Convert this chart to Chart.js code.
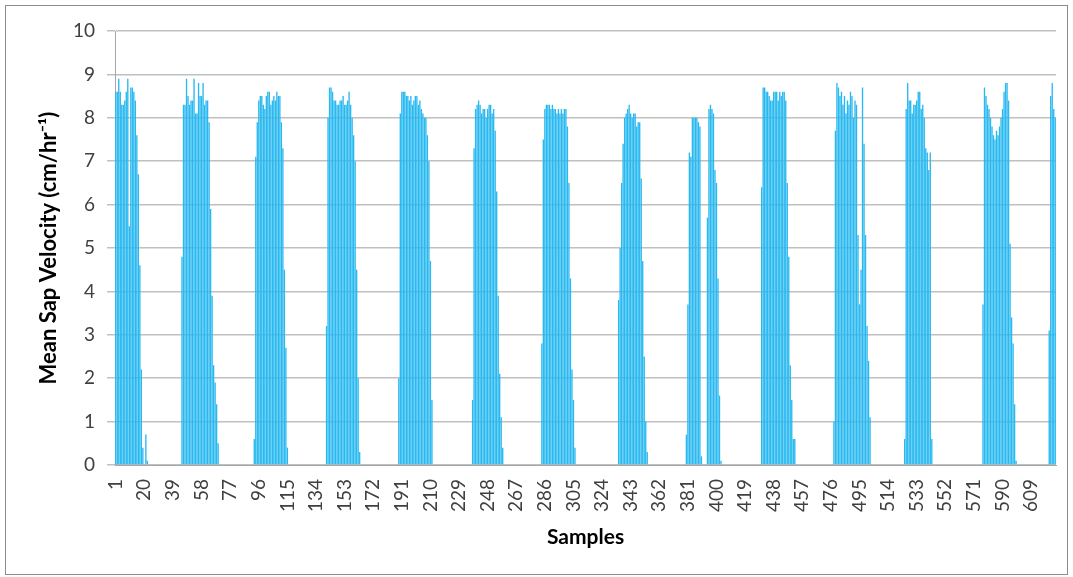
<!DOCTYPE html>
<html>
<head>
<meta charset="utf-8">
<script src="https://cdn.jsdelivr.net/npm/chart.js@4/dist/chart.umd.min.js"></script>
<style>
  html, body { margin: 0; padding: 0; background: #fff; }
  #wrap { width: 1073px; height: 577px; }
</style>
</head>
<body>
<div id="wrap"><canvas id="sapChart" width="1073" height="577"></canvas></div>
<script>
// total number of samples on the category axis
const sampleCount = 625;

// first sample number of each daytime block (rest of the samples are 0)
const blockStart = [1, 45, 93, 141, 189, 238, 284, 335, 380, 394, 430, 478, 525, 577, 621];

// mean sap velocity per block (cm/hr-1)
const day01 = [8.6, 8.6, 8.9, 8.6, 8.3, 8.3, 8.4, 8.6, 8.9, 5.5, 8.7, 8.7, 8.6, 8.4, 7.6, 6.7, 4.6, 2.2, 0.4, 0, 0.7, 0.1];
const day02 = [4.8, 8.3, 8.3, 8.9, 8.5, 8.3, 8.4, 8.4, 8.9, 8.1, 8.1, 8.8, 8.5, 8.5, 8.8, 8.3, 8.4, 8.4, 7.9, 5.9, 3.9, 2.3, 1.9, 1.4, 0.5];
const day03 = [0.6, 7.1, 7.9, 8.4, 8.5, 8.5, 8.3, 8.2, 8.5, 8.6, 8.6, 8.3, 8.4, 8.5, 8.4, 8.6, 8.5, 8.5, 7.9, 7.3, 4.5, 2.7, 0.4];
const day04 = [3.2, 8.0, 8.7, 8.7, 8.6, 8.4, 8.4, 8.3, 8.3, 8.4, 8.4, 8.5, 8.3, 8.3, 8.4, 8.6, 8.3, 8.0, 7.6, 7.0, 4.5, 2.0, 0.3];
const day05 = [2.0, 8.1, 8.6, 8.6, 8.6, 8.5, 8.5, 8.4, 8.5, 8.3, 8.4, 8.5, 8.5, 8.3, 8.4, 8.2, 8.1, 8.0, 8.0, 7.6, 7.0, 4.7, 1.5];
const day06 = [1.5, 7.3, 8.2, 8.3, 8.4, 8.3, 8.1, 8.2, 8.2, 8.0, 8.2, 8.3, 8.3, 8.1, 8.2, 7.7, 6.3, 3.9, 2.1, 1.1, 0.4];
const day07 = [2.8, 7.5, 8.2, 8.3, 8.3, 8.3, 8.2, 8.3, 8.2, 8.2, 8.1, 8.2, 8.1, 8.2, 8.1, 8.2, 8.2, 7.8, 6.5, 4.3, 2.2, 1.5, 0.4];
const day08 = [3.8, 5.0, 6.5, 7.4, 8.0, 8.1, 8.2, 8.3, 8.1, 8.0, 8.1, 8.1, 7.8, 7.9, 7.9, 6.6, 4.7, 2.5, 1.0, 0.3];
const day09a = [0.7, 3.7, 7.2, 7.1, 8.0, 8.0, 8.0, 8.0, 7.9, 7.8, 0.2];
const day09b = [5.7, 8.2, 8.3, 8.2, 8.1, 6.8, 6.5, 4.3, 1.6, 0.1];
const day10 = [6.4, 8.7, 8.7, 8.6, 8.6, 8.5, 8.4, 8.4, 8.6, 8.6, 8.6, 8.4, 8.6, 8.5, 8.6, 8.6, 8.4, 6.5, 4.8, 2.3, 1.5, 0.6, 0.6];
const day11 = [1.0, 7.7, 8.8, 8.7, 8.5, 8.6, 8.3, 8.5, 8.1, 8.4, 8.3, 8.6, 8.5, 8.0, 8.4, 8.3, 5.3, 3.7, 4.5, 8.7, 7.4, 5.3, 3.2, 2.4, 1.1];
const day12 = [0.6, 8.2, 8.8, 8.4, 8.4, 8.1, 8.3, 8.3, 8.4, 8.6, 8.6, 8.2, 8.3, 8.0, 7.3, 7.2, 6.8, 7.2, 0.6];
const day13 = [3.7, 8.7, 8.5, 8.3, 8.2, 8.0, 7.8, 7.6, 7.5, 7.7, 7.6, 7.8, 8.0, 8.2, 8.6, 8.8, 8.8, 8.4, 5.1, 3.4, 2.8, 1.4, 0.1];
const day14 = [3.1, 8.5, 8.8, 8.2, 8.0];

const blocks = [day01, day02, day03, day04, day05, day06, day07, day08, day09a, day09b, day10, day11, day12, day13, day14];

// y axis ticks
const yTicks = [0, 1, 2, 3, 4, 5, 6, 7, 8, 9, 10];
const labelEvery = 19;

// build the full series: samples outside the blocks are zero
const samples = [];
const velocity = [];
for (let i = 1; i <= sampleCount; i++) {
    samples.push(String(i));
    velocity.push(0);
}
blocks.forEach((vals, b) => {
    vals.forEach((v, k) => { velocity[blockStart[b] - 1 + k] = v; });
});

const frame = {
    id: 'frame',
    beforeDraw(chart) {
        const c = chart.ctx;
        c.save();
        c.fillStyle = '#ffffff';
        c.fillRect(0, 0, chart.width, chart.height);
        c.strokeStyle = '#8c8c8c';
        c.lineWidth = 1;
        c.strokeRect(5.5, 5.5, chart.width - 11, chart.height - 8);
        c.restore();
    }
};

const ctx = document.getElementById('sapChart').getContext('2d');
new Chart(ctx, {
    type: 'bar',
    data: {
        labels: samples,
        datasets: [{
            label: 'Mean Sap Velocity',
            data: velocity,
            backgroundColor: '#29b9f0',
            borderWidth: 0,
            barPercentage: 1,
            categoryPercentage: 0.9
        }]
    },
    options: {
        responsive: false,
        animation: false,
        events: [],
        layout: { padding: { top: 31, right: 17, bottom: 0, left: 0 } },
        plugins: {
            legend: { display: false },
            tooltip: { enabled: false }
        },
        scales: {
            x: {
                grid: { display: false, drawTicks: false },
                border: { display: true, color: '#a6a6a6', width: 1 },
                ticks: {
                    autoSkip: false,
                    minRotation: 90,
                    maxRotation: 90,
                    padding: 14,
                    color: '#404040',
                    font: { family: 'Lato', size: 19 },
                    callback: (val, idx) => (idx % labelEvery === 0 ? samples[idx] : null)
                },
                title: {
                    display: true,
                    text: 'Samples',
                    color: '#000000',
                    font: { family: 'Lato', size: 21, weight: 'bold' },
                    padding: { top: 0, bottom: 27 }
                },
                afterFit: s => { s.height = 112; }
            },
            y: {
                min: yTicks[0],
                max: yTicks[yTicks.length - 1],
                grid: { color: '#c0c0c0', lineWidth: 1.5, tickLength: 8 },
                border: { display: true, color: '#a6a6a6', width: 1 },
                afterBuildTicks: s => { s.ticks = yTicks.map(v => ({ value: v })); },
                ticks: {
                    padding: 12,
                    color: '#404040',
                    font: { family: 'Lato', size: 19 }
                },
                title: {
                    display: true,
                    text: 'Mean Sap Velocity (cm/hr⁻¹)',
                    color: '#000000',
                    font: { family: 'Lato', size: 22, weight: 'bold' },
                    padding: { top: 36, bottom: 0 }
                },
                afterFit: s => { s.width = 115; }
            }
        }
    },
    plugins: [frame]
});
</script>
</body>
</html>
